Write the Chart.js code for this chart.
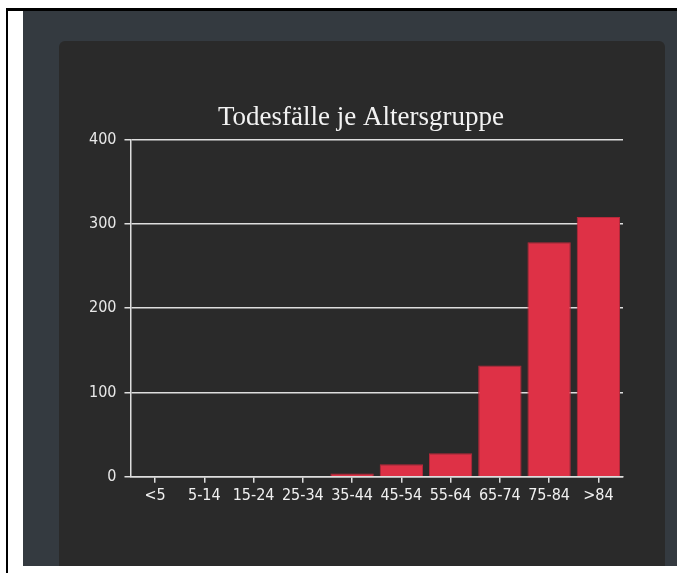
<!DOCTYPE html>
<html lang="de">
<head>
<meta charset="utf-8">
<title>Todesfälle je Altersgruppe</title>
<script src="https://cdn.jsdelivr.net/npm/chart.js@4.4.1/dist/chart.umd.min.js"></script>
<style>
    html, body { margin: 0; padding: 0; background: #fff; }
    body { width: 677px; height: 577px; position: relative; overflow: hidden; }
    .rahmen {
        position: absolute; left: 6px; top: 8px; width: 700px; height: 562px;
        border-left: 2px solid #000; border-top: 3px solid #000;
    }
    .seite {
        position: absolute; left: 23px; top: 11px; width: 660px; height: 555px;
        background: #343a40; overflow: hidden;
    }
    .karte {
        position: absolute; left: 36px; top: 30px; width: 606px; height: 600px;
        background: #2a2a2a; border-radius: 6px;
    }
    .diagramm {
        position: absolute; left: 21px; top: 47px; width: 575px; height: 420px;
    }
</style>
</head>
<body>
<div class="rahmen"></div>
<div class="seite">
    <div class="karte">
        <div class="diagramm"><canvas id="graficoAlter"></canvas></div>
    </div>
</div>
<script>
// Altersgruppen und Todesfälle
const altersgruppen = ['<5', '5-14', '15-24', '25-34', '35-44', '45-54', '55-64', '65-74', '75-84', '>84'];
const todesfaelle = [0, 0, 0, 1, 4, 15, 28, 132, 278, 308];
const yTicks = [0, 100, 200, 300, 400];

const linienFarbe = '#dedede';
const schrift = { family: '"DejaVu Sans Condensed", "DejaVu Sans", sans-serif', size: 16 };

// Titel etwas nach rechts, ueber die Mitte der Karte
const titelVersatz = {
    id: 'titelVersatz',
    afterLayout(chart) {
        chart.titleBlock.left += 9;
        chart.titleBlock.right += 9;
    }
};

const dados = {
    labels: altersgruppen,
    datasets: [{
        label: 'Todesfälle',
        backgroundColor: '#de3146',
        borderColor: '#b8283a',
        borderWidth: 1,
        barPercentage: 0.88,
        categoryPercentage: 1,
        data: todesfaelle,
    }]
};

const config = {
    type: 'bar',
    data: dados,
    plugins: [titelVersatz],
    options: {
        responsive: true,
        maintainAspectRatio: false,
        animation: false,
        layout: { padding: { left: 1, right: 32, top: 0, bottom: 0 } },
        plugins: {
            legend: { display: false },
            tooltip: { enabled: false },
            title: {
                display: true,
                text: 'Todesfälle je Altersgruppe',
                color: '#f2f2f2',
                font: { family: '"Liberation Serif", "Times New Roman", serif', size: 27, weight: 'normal' },
                padding: { top: 14, bottom: 5 }
            }
        },
        scales: {
            x: {
                grid: { display: true, drawOnChartArea: false, offset: false, color: linienFarbe, tickLength: 6, lineWidth: 1.5 },
                border: { color: linienFarbe, width: 1.5 },
                ticks: { color: '#f0f0f0', font: schrift, padding: 3, maxRotation: 0, autoSkip: false }
            },
            y: {
                min: yTicks[0],
                max: yTicks[yTicks.length - 1],
                afterBuildTicks: (axis) => { axis.ticks = yTicks.map(v => ({ value: v })); },
                grid: { color: linienFarbe, tickLength: 6, lineWidth: 1.5 },
                border: { color: linienFarbe, width: 1.5 },
                ticks: { color: '#e8e8e8', font: schrift, padding: 8 }
            }
        }
    }
};

const ctx = document.getElementById('graficoAlter').getContext('2d');
new Chart(ctx, config);
</script>
</body>
</html>
